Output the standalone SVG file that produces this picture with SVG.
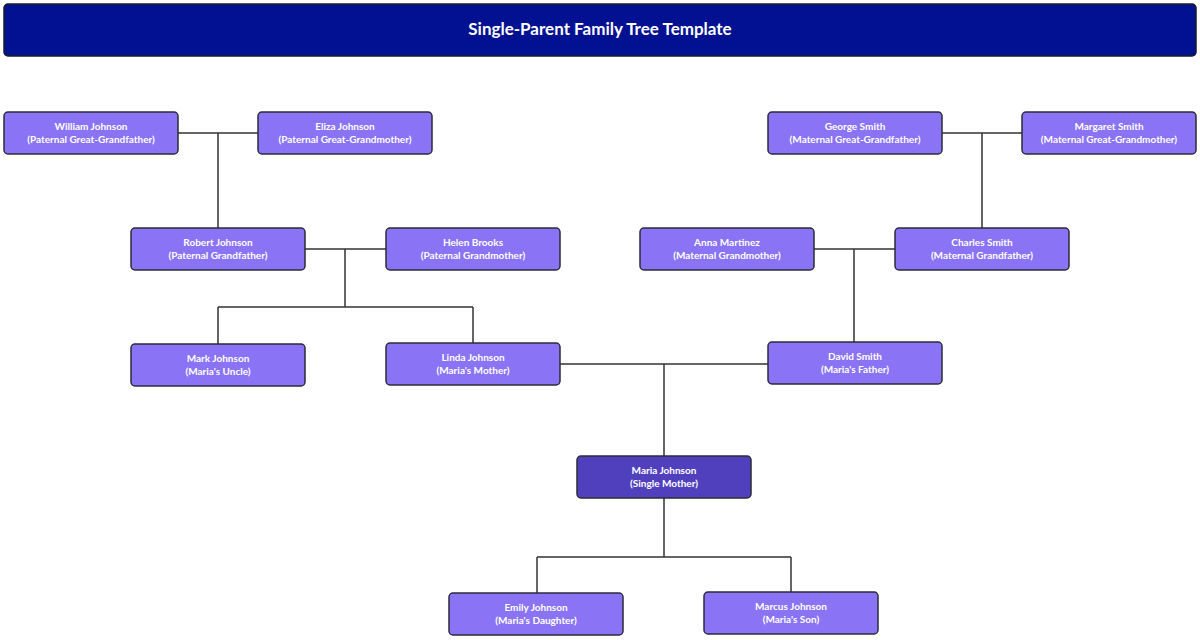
<svg xmlns="http://www.w3.org/2000/svg" width="1200" height="640" viewBox="0 0 1200 640">
<style>
.n rect{fill:#8a73f5;stroke:#2b2b3a;stroke-width:1.5}
.m rect{fill:#5140bd}
text{font-family:Lato,"Liberation Sans",sans-serif;font-weight:bold;fill:#fff;text-anchor:middle;font-size:10px}
.c path{fill:none;stroke:#333;stroke-width:1.5}
</style>
<rect x="0" y="0" width="1200" height="640" fill="#fff"/>
<g id="title"><rect x="4" y="4" width="1192" height="52" rx="4" fill="#021092" stroke="#1a1a2e" stroke-width="1.5"/>
<text x="600" y="35" style="font-size:17px">Single-Parent Family Tree Template</text></g>
<g class="c" id="connectors">
<path d="M178 133H258M218 133V228"/>
<path d="M942 133H1022M982 133V228"/>
<path d="M305 249H386M345 249V307M218 307H473M218 307V344M473 307V343"/>
<path d="M814 249H895M854 249V342"/>
<path d="M560 364H768M664 364V456"/>
<path d="M664 498V557M537 557H791M537 557V593M791 557V592"/>
</g>
<g class="n" id="william"><rect x="4" y="112" width="174" height="42" rx="4"/><text x="91" y="130">William Johnson</text><text x="91" y="143">(Paternal Great-Grandfather)</text></g>
<g class="n" id="eliza"><rect x="258" y="112" width="174" height="42" rx="4"/><text x="345" y="130">Eliza Johnson</text><text x="345" y="143">(Paternal Great-Grandmother)</text></g>
<g class="n" id="george"><rect x="768" y="112" width="174" height="42" rx="4"/><text x="855" y="130">George Smith</text><text x="855" y="143">(Maternal Great-Grandfather)</text></g>
<g class="n" id="margaret"><rect x="1022" y="112" width="174" height="42" rx="4"/><text x="1109" y="130">Margaret Smith</text><text x="1109" y="143">(Maternal Great-Grandmother)</text></g>
<g class="n" id="robert"><rect x="131" y="228" width="174" height="42" rx="4"/><text x="218" y="246">Robert Johnson</text><text x="218" y="259">(Paternal Grandfather)</text></g>
<g class="n" id="helen"><rect x="386" y="228" width="174" height="42" rx="4"/><text x="473" y="246">Helen Brooks</text><text x="473" y="259">(Paternal Grandmother)</text></g>
<g class="n" id="anna"><rect x="640" y="228" width="174" height="42" rx="4"/><text x="727" y="246">Anna Martinez</text><text x="727" y="259">(Maternal Grandmother)</text></g>
<g class="n" id="charles"><rect x="895" y="228" width="174" height="42" rx="4"/><text x="982" y="246">Charles Smith</text><text x="982" y="259">(Maternal Grandfather)</text></g>
<g class="n" id="mark"><rect x="131" y="344" width="174" height="42" rx="4"/><text x="218" y="362">Mark Johnson</text><text x="218" y="375">(Maria's Uncle)</text></g>
<g class="n" id="linda"><rect x="386" y="343" width="174" height="42" rx="4"/><text x="473" y="361">Linda Johnson</text><text x="473" y="374">(Maria's Mother)</text></g>
<g class="n" id="david"><rect x="768" y="342" width="174" height="42" rx="4"/><text x="855" y="360">David Smith</text><text x="855" y="373">(Maria's Father)</text></g>
<g class="n m" id="maria"><rect x="577" y="456" width="174" height="42" rx="4"/><text x="664" y="474">Maria Johnson</text><text x="664" y="487">(Single Mother)</text></g>
<g class="n" id="emily"><rect x="449" y="593" width="174" height="42" rx="4"/><text x="536" y="611">Emily Johnson</text><text x="536" y="624">(Maria's Daughter)</text></g>
<g class="n" id="marcus"><rect x="704" y="592" width="174" height="42" rx="4"/><text x="791" y="610">Marcus Johnson</text><text x="791" y="623">(Maria's Son)</text></g>
</svg>
